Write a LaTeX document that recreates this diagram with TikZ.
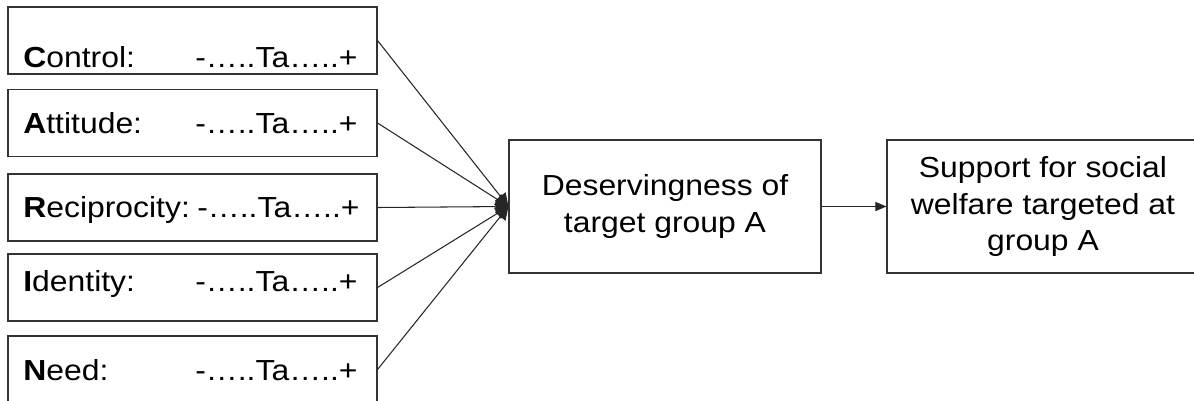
\documentclass[tikz,border=0pt]{standalone}
\usepackage{fontspec}
\setmainfont{Liberation Sans}[FakeStretch=1.1]
\usetikzlibrary{arrows.meta}
\begin{document}
\begin{tikzpicture}[
  x=0.02cm,y=-0.02cm,
  box/.style={draw=black!80,line width=0.65pt,minimum width=7.38cm,minimum height=1.34cm,inner sep=0pt},
  bigbox/.style={box,minimum width=6.24cm,minimum height=2.66cm,align=center,font=\fontsize{16.5}{21}\selectfont},
  txt/.style={anchor=base west,inner sep=0pt,font=\fontsize{16.5}{21}\selectfont},
  link/.style={draw=black!85,line width=0.6pt,-{Triangle[length=0.26cm,width=0.26cm]}}
]
  \useasboundingbox (0,0) rectangle (1194,400);
  % dimension boxes
  \node[box] (control)  at (192.5,40.5)  {};
  \node[box] (attitude) at (192.5,123)   {};
  \node[box] (recip)    at (192.5,207.5) {};
  \node[box] (identity) at (192.5,287.5) {};
  \node[box] (need)     at (192.5,369.5) {};

  \node[txt] (controlL)  at (23,67)  {\textbf{C}ontrol:};
  \node[txt] (controlS)  at (195,67) {-…..Ta…..+};
  \node[txt] (attitudeL) at (23,133)  {\textbf{A}ttitude:};
  \node[txt] (attitudeS) at (195,133) {-…..Ta…..+};
  \node[txt] (recipL)    at (23,217)  {\textbf{R}eciprocity:};
  \node[txt] (recipS)    at (197,217) {-…..Ta…..+};
  \node[txt] (identityL) at (23,291)  {\textbf{I}dentity:};
  \node[txt] (identityS) at (195,291) {-…..Ta…..+};
  \node[txt] (needL)     at (23,380)  {\textbf{N}eed:};
  \node[txt] (needS)     at (195,380) {-…..Ta…..+};

  % outcome boxes
  \node[bigbox] (deserv)  at (665,206.5)  {Deservingness of\\target group A};
  \node[bigbox] (support) at (1043,206.5) {Support for social\\welfare targeted at\\group A};

  \draw[link] (control.east)  -- (deserv.west);
  \draw[link] (attitude.east) -- (deserv.west);
  \draw[link] (recip.east)    -- (deserv.west);
  \draw[link] (identity.east) -- (deserv.west);
  \draw[link] (need.east)     -- (deserv.west);
  \draw[link,-{Triangle[length=0.22cm,width=0.18cm]}] (deserv.east) -- (support.west);
\end{tikzpicture}
\end{document}
